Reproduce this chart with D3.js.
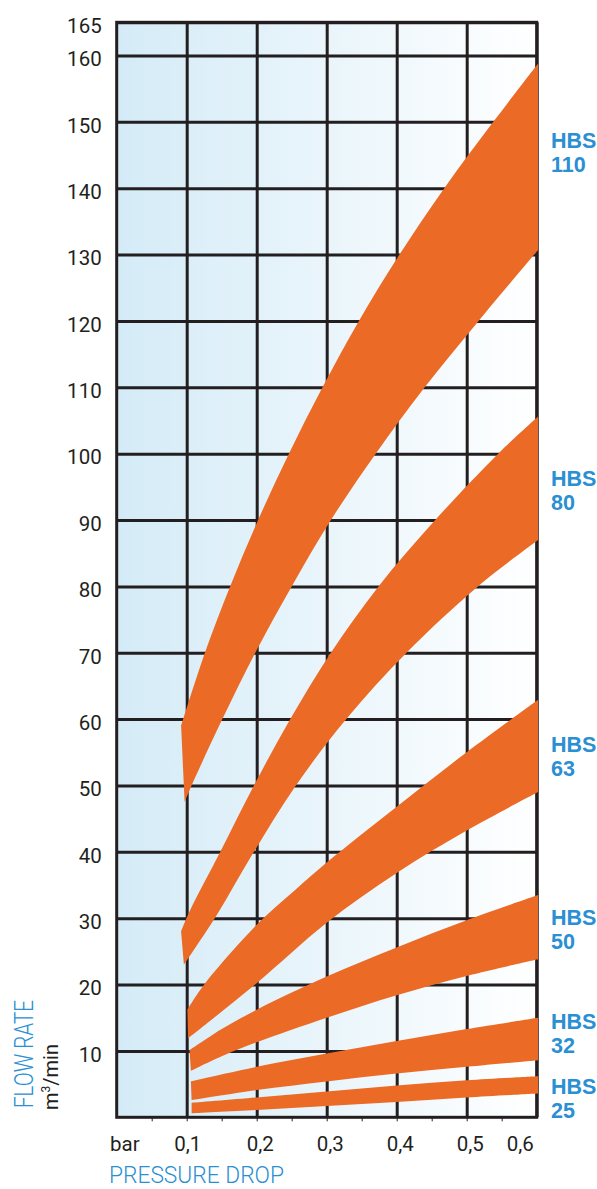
<html>
<head>
    <script src="https://d3js.org/d3.v7.min.js"></script>
    <style>
        body { margin: 0; background: #fff; }
    </style>
</head>
<body>
<div id="chart"></div>

<script>
    // values: [pressure drop (bar), flow rate (m3/min)]
    var models = ["110", "80", "63", "50", "32", "25"]

    var hbs110Upper = [[0.092, 59], [0.126, 70], [0.162, 80], [0.202, 90], [0.246, 100], [0.294, 110],
                       [0.346, 120], [0.404, 130], [0.468, 140], [0.538, 150], [0.602, 158.8]]
    var hbs110Lower = [[0.097, 47.5], [0.107, 50], [0.151, 60], [0.198, 70], [0.25, 80], [0.306, 90],
                       [0.37, 100], [0.44, 110], [0.517, 120], [0.602, 130.7]]

    var hbs80Upper = [[0.092, 28], [0.104, 31], [0.148, 40], [0.196, 50], [0.248, 60], [0.306, 70],
                      [0.374, 80], [0.455, 90], [0.545, 100], [0.602, 105.6]]
    var hbs80Lower = [[0.096, 23], [0.143, 30.5], [0.196, 40], [0.256, 50], [0.328, 60], [0.414, 70],
                      [0.516, 80], [0.602, 87]]

    var hbs63Upper = [[0.101, 16.2], [0.125, 20], [0.2, 29], [0.25, 33.8], [0.3, 38.4], [0.4, 46.8],
                      [0.5, 55], [0.602, 62.9]]
    var hbs63Lower = [[0.102, 11.9], [0.2, 20.2], [0.3, 29.3], [0.4, 36.8], [0.5, 43.2], [0.602, 49]]

    var hbs50Upper = [[0.104, 10.1], [0.15, 13.3], [0.2, 16.2], [0.3, 21.2], [0.4, 25.6], [0.5, 29.7], [0.602, 33.5]]
    var hbs50Lower = [[0.106, 7.0], [0.15, 9.2], [0.2, 11.3], [0.3, 15.0], [0.4, 18.4], [0.5, 21.3], [0.602, 23.8]]

    var hbs32Upper = [[0.106, 5.4], [0.2, 7.6], [0.3, 9.6], [0.4, 11.5], [0.5, 13.3], [0.602, 15.0]]
    var hbs32Lower = [[0.107, 2.6], [0.2, 4.1], [0.3, 5.4], [0.4, 6.6], [0.5, 7.6], [0.602, 8.6]]

    var hbs25Upper = [[0.107, 2.2], [0.2, 3.0], [0.3, 3.9], [0.4, 4.8], [0.5, 5.6], [0.602, 6.2]]
    var hbs25Lower = [[0.107, 0.6], [0.2, 1.1], [0.3, 1.7], [0.4, 2.3], [0.5, 3.0], [0.602, 3.6]]

    // flow value where each label's first line sits
    var labelValues = [146, 95.1, 55, 29, 13.3, 3.5]

    var yTicks = [10, 20, 30, 40, 50, 60, 70, 80, 90, 100, 110, 120, 130, 140, 150, 160, 165]
    var xTicks = [0.1, 0.2, 0.3, 0.4, 0.5, 0.6]
    var xMinorTicks = [0.05, 0.1, 0.15, 0.2, 0.25, 0.3, 0.35, 0.4, 0.45, 0.5, 0.55]

    var uppers = [hbs110Upper, hbs80Upper, hbs63Upper, hbs50Upper, hbs32Upper, hbs25Upper]
    var lowers = [hbs110Lower, hbs80Lower, hbs63Lower, hbs50Lower, hbs32Lower, hbs25Lower]

    var ink = "#231f20"
    var blue = "#2a8fd3"
    var orange = "#eb6a25"

    var svg = d3.select("#chart")
        .append("svg")
        .attr("width", 597)
        .attr("height", 1189)

    var x = d3.scaleLinear().domain([0, 0.6]).range([116.7, 536.7])
    var y = d3.scaleLinear().domain([0, 165]).range([1117.3, 22.3])

    var plotW = x(0.6) - x(0)
    var plotH = y(0) - y(165)

    /* blue to white background */
    var grad = svg.append("defs").append("linearGradient")
        .attr("id", "bg")
        .attr("x1", "0").attr("x2", "1").attr("y1", "0").attr("y2", "0")
    grad.append("stop").attr("offset", "0").attr("stop-color", "#d4ebf7")
    grad.append("stop").attr("offset", "1").attr("stop-color", "#ffffff")

    svg.append("rect")
        .attr("x", x(0)).attr("y", y(165))
        .attr("width", plotW).attr("height", plotH)
        .attr("fill", "url(#bg)")

    /* y axis: grid lines + labels */
    var yAxis = svg.append("g")
        .attr("transform", "translate(" + x(0) + ",0)")
        .call(d3.axisLeft(y).tickValues(yTicks).tickSize(-plotW).tickPadding(15).tickFormat(d3.format("d")))
    yAxis.select(".domain").remove()
    yAxis.selectAll("line").attr("stroke", ink).attr("stroke-width", 3)
    yAxis.selectAll("text")
        .attr("dy", "0.5em")
        .style("font-family", "Roboto, sans-serif")
        .style("font-size", "20.5px")
        .attr("fill", ink)

    /* x axis: grid lines + labels */
    var xAxis = svg.append("g")
        .attr("transform", "translate(0," + y(0) + ")")
        .call(d3.axisBottom(x).tickValues(xTicks).tickSize(-plotH).tickPadding(19)
            .tickFormat(function (d) { return d3.format(".1f")(d).replace(".", ",") }))
    xAxis.select(".domain").remove()
    xAxis.selectAll("line").attr("stroke", ink).attr("stroke-width", 3)
    xAxis.selectAll("text")
        .attr("dx", function (d) { return d === 0.6 ? -17 : (d === 0.1 ? 0.5 : 3) })
        .style("font-family", "Roboto, sans-serif")
        .style("font-size", "20.5px")
        .attr("fill", ink)

    /* little ticks under the bottom edge */
    var minor = svg.append("g")
        .attr("transform", "translate(0," + y(0) + ")")
        .call(d3.axisBottom(x).tickValues(xMinorTicks).tickSize(4).tickFormat(""))
    minor.select(".domain").remove()
    minor.selectAll("line").attr("stroke", ink).attr("stroke-width", 1)

    /* plot border */
    svg.append("rect")
        .attr("x", x(0)).attr("y", y(165))
        .attr("width", plotW).attr("height", plotH)
        .attr("fill", "none")
        .attr("stroke", ink)
        .attr("stroke-width", 3)

    /* bands */
    var line = d3.line()
        .x(function (d) { return x(d[0]) })
        .y(function (d) { return y(d[1]) })
        .curve(d3.curveCatmullRom.alpha(0.5))

    svg.append("g").selectAll("path")
        .data(models)
        .enter()
        .append("path")
        .attr("fill", orange)
        .attr("d", function (d, i) {
            var top = line(uppers[i])
            var bottom = line(lowers[i].slice().reverse())
            return top + "L" + bottom.slice(1) + "Z"
        })

    /* model labels */
    var labels = svg.append("g").selectAll("text")
        .data(models)
        .enter()
        .append("text")
        .attr("x", 551)
        .attr("y", function (d, i) { return y(labelValues[i]) })
        .attr("fill", blue)
        .style("font-family", "'Liberation Sans', Arial, sans-serif")
        .style("font-weight", "bold")
        .style("font-size", "21.5px")
    labels.append("tspan").text("HBS")
    labels.append("tspan")
        .attr("x", 551).attr("dy", 24)
        .text(function (d) { return d })

    /* axis titles */
    svg.append("text")
        .attr("x", 110).attr("y", y(0) + 34)
        .attr("fill", ink)
        .style("font-family", "Roboto, sans-serif")
        .style("font-size", "20.5px")
        .text("bar")

    svg.append("text")
        .attr("x", 109).attr("y", 1183)
        .attr("fill", blue)
        .attr("textLength", 175)
        .attr("lengthAdjust", "spacingAndGlyphs")
        .style("font-family", "Roboto, sans-serif")
        .style("font-weight", 300)
        .style("font-size", "23px")
        .text("PRESSURE DROP")

    svg.append("text")
        .attr("transform", "translate(33,1108) rotate(-90)")
        .attr("fill", blue)
        .attr("textLength", 108)
        .attr("lengthAdjust", "spacingAndGlyphs")
        .style("font-family", "Roboto, sans-serif")
        .style("font-weight", 300)
        .style("font-size", "26px")
        .text("FLOW RATE")

    var unit = svg.append("text")
        .attr("transform", "translate(58,1110) rotate(-90)")
        .attr("fill", ink)
        .style("font-family", "Roboto, sans-serif")
        .style("font-size", "20px")
    unit.append("tspan").text("m")
    unit.append("tspan").attr("dy", -8).style("font-size", "12px").text("3")
    unit.append("tspan").attr("dy", 8).text("/min")
</script>

</body>
</html>
